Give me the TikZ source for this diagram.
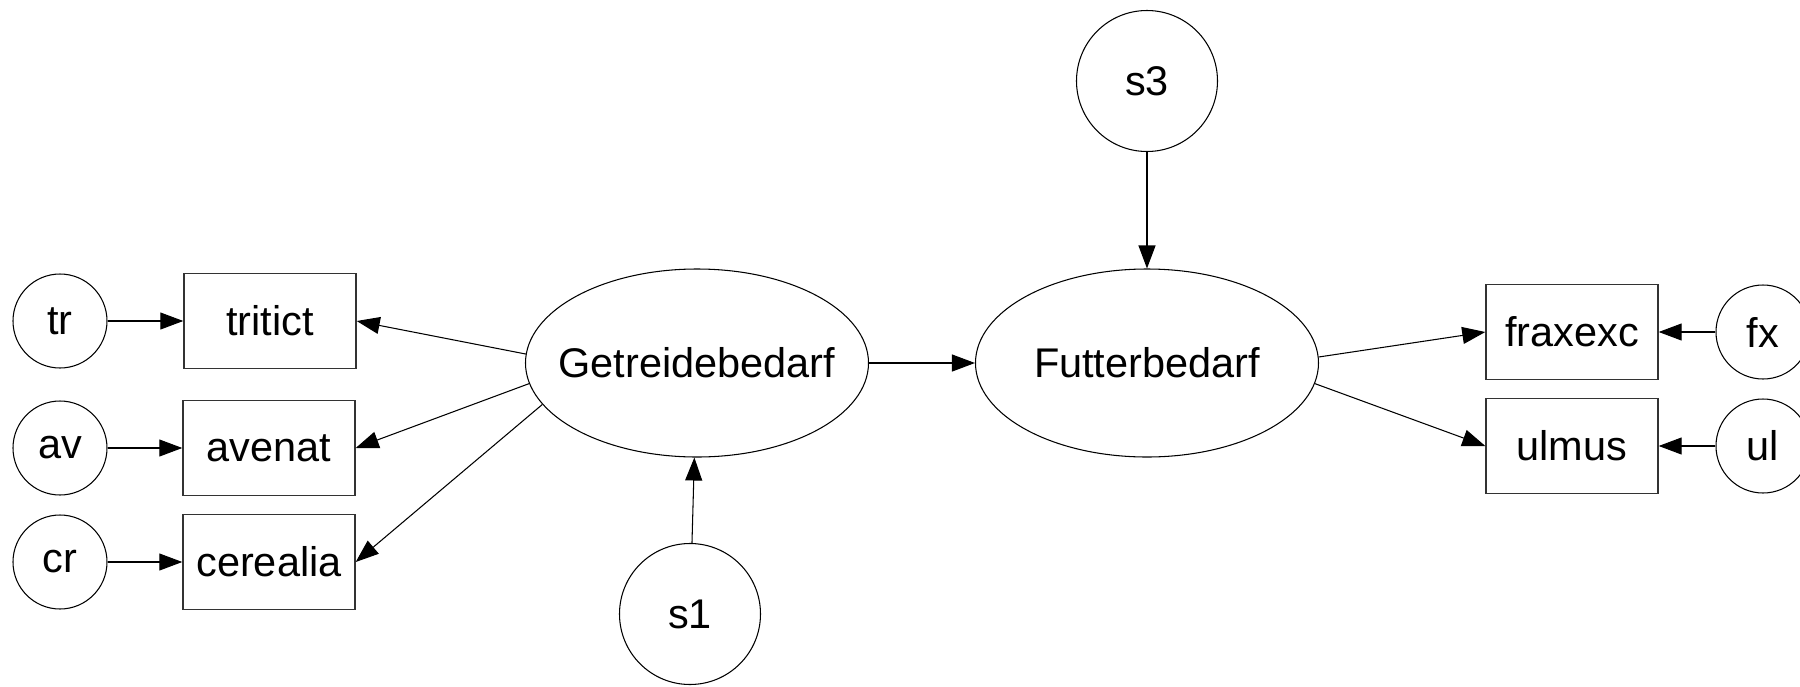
\documentclass[tikz,border=0pt]{standalone}
\usepackage{fontspec}
\setmainfont{Liberation Sans}
\usetikzlibrary{shapes.geometric,arrows.meta}
\newcommand\latname[1]{\makebox[0pt]{#1}}
\tikzset{
  obs/.style={draw=black!80,line width=0.4pt,rectangle,minimum width=1.72cm,minimum height=0.95cm,inner sep=0pt},
  err/.style={draw,line width=0.3pt,circle,minimum size=0.94cm,inner sep=0pt},
  dist/.style={draw,line width=0.3pt,circle,minimum size=1.41cm,inner sep=0pt},
  lat/.style={draw,line width=0.3pt,ellipse,minimum width=3.43cm,minimum height=1.88cm,inner sep=0pt},
  path/.style={line width=0.3pt,-{Triangle[length=0.23cm,width=0.17cm]}}
}
\begin{document}
\begin{tikzpicture}[font=\fontsize{11.8}{14}\selectfont]
    \useasboundingbox (0,0) rectangle (18,6.86);
    % latent variables
    \node[lat] (G) at (6.97,3.23) {\latname{Getreidebedarf}};
    \node[lat] (F) at (11.47,3.23) {\latname{Futterbedarf}};
    \node[dist] (s1) at (6.90,0.72) {s1};
    \node[dist] (s3) at (11.47,6.05) {s3};

    % indicators left
    \node[obs] (tritict) at (2.70,3.65) {tritict};
    \node[obs] (avenat) at (2.69,2.38) {avenat};
    \node[obs] (cerealia) at (2.69,1.24) {cerealia};
    \node[err] (tr) at (0.60,3.65) {tr};
    \node[err] (av) at (0.60,2.38) {av};
    \node[err] (cr) at (0.60,1.24) {cr};

    % indicators right
    \node[obs] (fraxexc) at (15.72,3.54) {fraxexc};
    \node[obs] (ulmus) at (15.72,2.40) {ulmus};
    \node[err] (fx) at (17.63,3.54) {fx};
    \node[err] (ul) at (17.63,2.40) {ul};

    \draw[path] (G.177) -- (tritict.east);
    \draw[path] (G.187) -- (avenat.east);
    \draw[path] (G.195) -- (cerealia.east);
    \draw[path] (tr) -- (tritict);
    \draw[path] (av) -- (avenat);
    \draw[path] (cr) -- (cerealia);
    \draw[path] (s1) -- (G);
    \draw[path] (G) -- (F);
    \draw[path] (s3) -- (F);
    \draw[path] (F.2) -- (fraxexc.west);
    \draw[path] (F.353) -- (ulmus.west);
    \draw[path] (fx) -- (fraxexc);
    \draw[path] (ul) -- (ulmus);
\end{tikzpicture}
\end{document}
